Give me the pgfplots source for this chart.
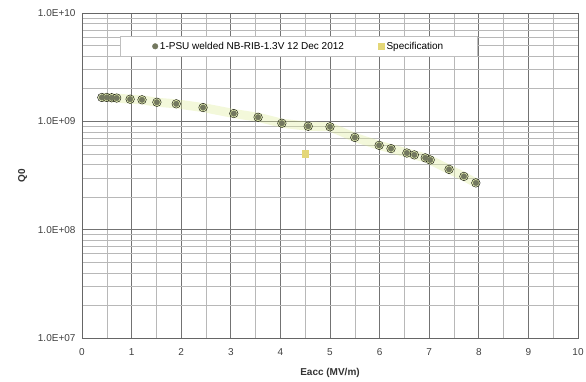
\documentclass[border=0pt]{standalone}
\usepackage{pgfplots}
\pgfplotsset{compat=1.18}
\usepackage{fontspec}
\setmainfont{Liberation Sans}
\definecolor{mk}{RGB}{115,120,95}
\definecolor{glow}{RGB}{220,235,150}
\definecolor{spec}{RGB}{228,215,120}
\pgfplotstableread{
x y
0.40 1.66e9
0.50 1.66e9
0.60 1.65e9
0.70 1.64e9
0.97 1.60e9
1.21 1.58e9
1.51 1.50e9
1.90 1.45e9
2.44 1.34e9
3.06 1.18e9
3.55 1.09e9
4.03 0.96e9
4.56 0.90e9
5.00 0.89e9
5.50 0.71e9
5.99 0.60e9
6.23 0.56e9
6.55 0.51e9
6.70 0.49e9
6.92 0.46e9
7.02 0.44e9
7.40 0.36e9
7.70 0.31e9
7.94 0.27e9
}\qdata
\begin{document}
\begin{tikzpicture}
\useasboundingbox (-82pt,-44pt) rectangle (504pt,338pt);
\begin{axis}[
  scale only axis,
  width=496pt, height=325pt,
  xmin=0, xmax=10, ymin=1e7, ymax=1e10,
  ymode=log,
  log basis y=10,
  xtick={0,1,...,10},
  minor xtick={0.5,1.5,...,9.5},
  ytick={1e7,1e8,1e9,1e10},
  minor ytick={2e7,3e7,4e7,5e7,6e7,7e7,8e7,9e7,2e8,3e8,4e8,5e8,6e8,7e8,8e8,9e8,2e9,3e9,4e9,5e9,6e9,7e9,8e9,9e9},
  yticklabels={1.0E+07,1.0E+08,1.0E+09,1.0E+10},
  /pgf/number format/assume math mode=true,
  tick label style={font=\fontsize{10}{12}\selectfont, text=black!75},
  yticklabel style={xshift=-3pt},
  xticklabel style={yshift=-7pt},
  xlabel={\textbf{Eacc (MV/m)}},
  ylabel={\textbf{Q0}},
  label style={font=\fontsize{10}{12}\selectfont, text=black!80},
  xlabel style={yshift=-6pt},
  ylabel style={yshift=4pt},
  grid=both,
  major grid style={draw=black!55, line width=0.7pt},
  minor grid style={draw=black!28, line width=0.5pt},
  axis line style={draw=black!60, line width=0.8pt},
  tick style={draw=none},
  legend columns=2,
  legend style={at={(rel axis cs:0.077,0.93)}, anchor=north west,
    font=\fontsize{10}{12}\selectfont, draw=black!25, fill=white,
    inner xsep=32pt, inner ysep=4pt,
    /tikz/every even column/.append style={column sep=32pt}},
  legend cell align=left,
]
\addplot[draw=glow, line width=9pt, opacity=0.35, forget plot] table[x=x,y=y]{\qdata};
\addplot[only marks, mark=*, mark size=4.3pt, mark options={draw=none, fill=glow, fill opacity=0.6}, forget plot] table[x=x,y=y]{\qdata};
\addplot[only marks, mark=*, mark size=2.8pt, mark options={draw=mk, fill=mk}] table[x=x,y=y]{\qdata};
\addlegendentry{1-PSU welded NB-RIB-1.3V 12 Dec 2012}
\addplot[only marks, mark=square*, mark size=3.3pt, mark options={draw=spec, fill=spec}]
coordinates {(4.5,5.0e8)};
\addlegendentry{Specification}
\end{axis}
\end{tikzpicture}
\end{document}
